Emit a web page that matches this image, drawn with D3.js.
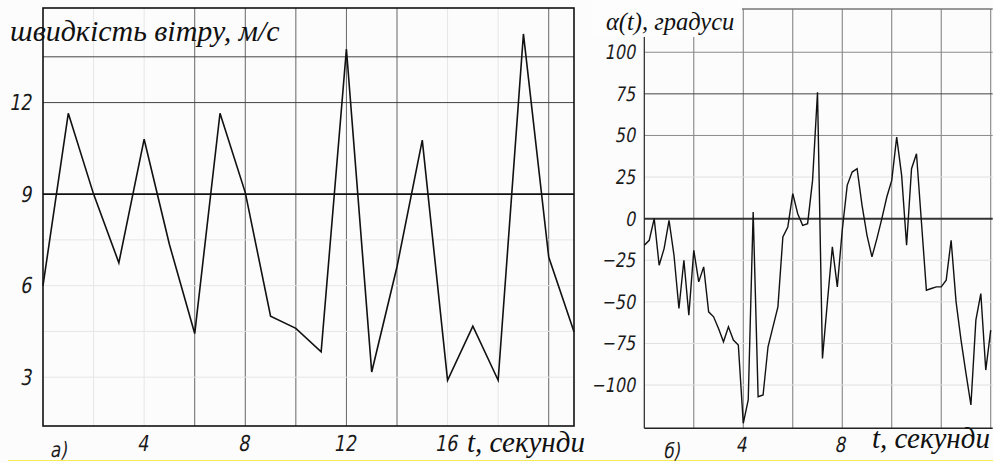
<!DOCTYPE html>
<html>
<head>
<meta charset="utf-8">
<script src="https://cdn.jsdelivr.net/npm/d3@7"></script>
<style>
  html, body { margin: 0; padding: 0; background: #fcfcfc; }
  svg { display: block; }
  .tick text, .mark { font-family: "DejaVu Sans", sans-serif; fill: #1a1a1a; }
  .title { font-family: "Liberation Serif", "Times New Roman", serif; font-style: italic; fill: #111; }
</style>
</head>
<body>
<div id="chart"></div>
<script>
// --- a) wind speed, m/s
const windTime = [0, 1, 2, 3, 4, 5, 6, 7, 8, 9, 10, 11, 12, 13, 14, 15, 16, 17, 18, 19, 20, 21];
const windSpeed = [6.0, 11.65, 9.0, 6.75, 10.8, 7.35, 4.43, 11.65, 9.05, 5.0, 4.6, 3.83, 13.75, 3.17, 6.62, 10.77, 2.9, 4.67, 2.9, 14.25, 6.94, 4.49];
const windXTicks = [4, 8, 12, 16];
const windYTicks = [3, 6, 9, 12];
const windGridX = [2, 4, 6, 8, 10, 12, 14, 16, 18, 20];
const windGridXStrong = [6, 8, 10, 12, 14, 20];
const windGridY = [3, 4.5, 6, 7.5, 9, 12, 13.5];
const windGridYStrong = [12, 13.5];

// --- б) angle alpha(t), degrees
const angleTime = [0, 0.2, 0.4, 0.6, 0.8, 1, 1.2, 1.4, 1.6, 1.8, 2, 2.2, 2.4, 2.6, 2.8, 3, 3.2, 3.4, 3.6, 3.8,
  4, 4.2, 4.4, 4.6, 4.8, 5, 5.2, 5.4, 5.6, 5.8, 6, 6.2, 6.4, 6.6, 6.8, 7, 7.2, 7.4, 7.6, 7.8,
  8, 8.2, 8.4, 8.6, 8.8, 9, 9.2, 9.4, 9.6, 9.8, 10, 10.2, 10.4, 10.6, 10.8, 11, 11.2, 11.4, 11.6, 11.8,
  12, 12.2, 12.4, 12.6, 12.8, 13, 13.2, 13.4, 13.6, 13.8, 14];
const angleValue = [-16, -13, 0, -28, -18, -1, -22, -54, -25, -58, -19, -38, -29, -56, -59, -66, -74, -65, -73, -76,
  -123, -109, 4, -107, -106, -77, -65, -53, -11, -5, 15, 3, -4, -3, 23, 76, -84, -50, -17, -41,
  -7, 20, 28, 30, 8, -10, -23, -12, 0, 13, 23, 49, 26, -16, 30, 39, -2, -43, -42, -41,
  -41, -37, -13, -50, -73, -93, -112, -61, -45, -91, -67];
const angleXTicks = [4, 8];
const angleYTicks = [-100, -75, -50, -25, 0, 25, 50, 75, 100];
const angleGridX = [2, 4, 6, 8, 10, 12, 14];
const angleGridYStrong = [75];
const angleGridYMid = [100, 50];

const W = 993, H = 463;
// narrow slanted look of the drafting font
const SX = 0.8, SKEW = -13;
const slant = `scale(${SX},1) skewX(${SKEW})`;

const svg = d3.select("#chart").append("svg").attr("width", W).attr("height", H);

// thin yellow line at the very bottom of the scan
svg.append("line").attr("x1", 8).attr("x2", W).attr("y1", 460.5).attr("y2", 460.5)
  .attr("stroke", "#f3ec55").attr("stroke-width", 1.2);

// ================= a) =================
const xL = d3.scaleLinear().domain([0, 21]).range([43, 574]);
const yL = d3.scaleLinear().domain([1.4, 15.1]).range([426, 8]);
const gL = svg.append("g");

gL.selectAll(".gx").data(windGridX).enter().append("line")
  .attr("x1", d => xL(d)).attr("x2", d => xL(d)).attr("y1", yL.range()[1]).attr("y2", yL.range()[0])
  .attr("stroke", d => windGridXStrong.includes(d) ? "#666" : "#e6e6e6").attr("stroke-width", 1);

gL.selectAll(".gy").data(windGridY).enter().append("line")
  .attr("x1", xL.range()[0]).attr("x2", xL.range()[1]).attr("y1", d => yL(d)).attr("y2", d => yL(d))
  .attr("stroke", d => d === 9 ? "#111" : (windGridYStrong.includes(d) ? "#444" : "#e6e6e6"))
  .attr("stroke-width", d => d === 9 ? 1.6 : 1);

gL.append("rect").attr("x", xL(0)).attr("y", yL(15.1))
  .attr("width", xL(21) - xL(0)).attr("height", yL(1.4) - yL(15.1))
  .attr("fill", "none").attr("stroke", "#111").attr("stroke-width", 1.6);

gL.append("path").datum(windTime.map((t, i) => [t, windSpeed[i]]))
  .attr("fill", "none").attr("stroke", "#111").attr("stroke-width", 1.6).attr("stroke-linejoin", "miter")
  .attr("d", d3.line().x(d => xL(d[0])).y(d => yL(d[1])));

const axLX = gL.append("g").attr("transform", "translate(0,426)")
  .call(d3.axisBottom(xL).tickValues(windXTicks).tickSize(0).tickPadding(9));
axLX.select(".domain").remove();
axLX.selectAll("text").attr("font-size", 22).attr("dx", 3).attr("transform", slant);

const axLY = gL.append("g").attr("transform", "translate(43,0)")
  .call(d3.axisLeft(yL).tickValues(windYTicks).tickSize(0).tickPadding(13));
axLY.select(".domain").remove();
axLY.selectAll("text").attr("font-size", 22).attr("transform", slant);

gL.append("text").attr("class", "title").attr("x", 10).attr("y", 41)
  .attr("font-size", 30).text("швидкість вітру, м/с");
gL.append("text").attr("class", "title").attr("x", 467).attr("y", 452)
  .attr("font-size", 29).text("t, секунди");
gL.append("text").attr("class", "mark").attr("transform", `translate(50,457) ${slant}`)
  .attr("font-size", 21).text("а)");

// ================= б) =================
const xR = d3.scaleLinear().domain([0, 14.08]).range([644.3, 992.7]);
const yR = d3.scaleLinear().domain([-126, 126]).range([428.3, 9]);
const gR = svg.append("g");

gR.selectAll(".gx").data(angleGridX).enter().append("line")
  .attr("x1", d => xR(d)).attr("x2", d => xR(d)).attr("y1", yR.range()[1]).attr("y2", yR.range()[0])
  .attr("stroke", "#7a7a7a").attr("stroke-width", 1);

gR.selectAll(".gy").data(angleYTicks).enter().append("line")
  .attr("x1", xR.range()[0]).attr("x2", xR.range()[1]).attr("y1", d => yR(d)).attr("y2", d => yR(d))
  .attr("stroke", d => d === 0 ? "#333" : angleGridYStrong.includes(d) ? "#444" : angleGridYMid.includes(d) ? "#8a8a8a" : "#e0e0e0")
  .attr("stroke-width", d => d === 0 ? 2 : 1);

// frame
gR.append("line").attr("x1", xR(0)).attr("x2", xR(0)).attr("y1", yR(126)).attr("y2", yR(-126))
  .attr("stroke", "#222").attr("stroke-width", 1.2);
gR.append("line").attr("x1", xR(0)).attr("x2", xR(14.08)).attr("y1", yR(-126)).attr("y2", yR(-126))
  .attr("stroke", "#222").attr("stroke-width", 1.4);
gR.append("line").attr("x1", xR(0)).attr("x2", xR(14.08)).attr("y1", yR(126)).attr("y2", yR(126))
  .attr("stroke", "#777").attr("stroke-width", 1.4);

gR.append("path").datum(angleTime.map((t, i) => [t, angleValue[i]]))
  .attr("fill", "none").attr("stroke", "#111").attr("stroke-width", 1.4)
  .attr("d", d3.line().x(d => xR(d[0])).y(d => yR(d[1])));

// white box behind the axis title
gR.append("rect").attr("x", 592).attr("y", 0).attr("width", 150).attr("height", 37).attr("fill", "#fdfdfd");

const axRX = gR.append("g").attr("transform", "translate(0,428.3)")
  .call(d3.axisBottom(xR).tickValues(angleXTicks).tickSize(0).tickPadding(9));
axRX.select(".domain").remove();
axRX.selectAll("text").attr("font-size", 21).attr("dx", 2).attr("transform", slant);

const axRY = gR.append("g").attr("transform", "translate(644.3,0)")
  .call(d3.axisLeft(yR).tickValues(angleYTicks).tickSize(0).tickPadding(10));
axRY.select(".domain").remove();
axRY.selectAll("text").attr("font-size", 20).attr("transform", slant);

gR.append("text").attr("class", "title").attr("x", 606).attr("y", 30)
  .attr("font-size", 24.5).text("α(t), градуси");
gR.append("text").attr("class", "title").attr("x", 872).attr("y", 448)
  .attr("font-size", 29).text("t, секунди");
gR.append("text").attr("class", "mark").attr("transform", `translate(663,458) ${slant}`)
  .attr("font-size", 21).text("б)");
</script>
</body>
</html>
